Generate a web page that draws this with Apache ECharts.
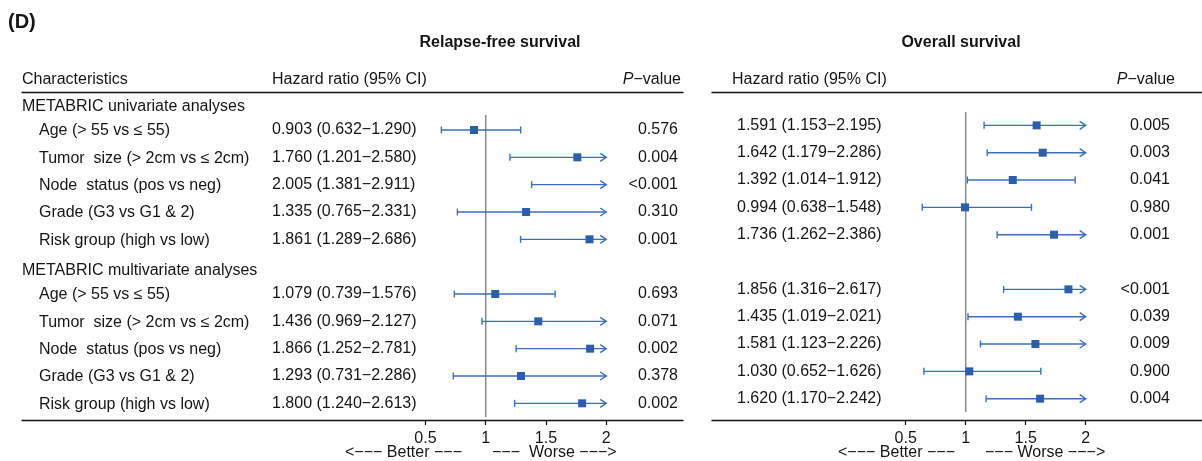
<!DOCTYPE html>
<html>
<head>
<meta charset="utf-8">
<script src="https://cdn.jsdelivr.net/npm/echarts@6/dist/echarts.min.js"></script>
<style>
  html, body { margin: 0; padding: 0; background: #fff; }
  #main { width: 1202px; height: 461px; }
</style>
</head>
<body>
<div id="main"></div>
<script>
// row labels + groups
const characteristics = [
  'Age (> 55 vs ≤ 55)',
  'Tumor  size (> 2cm vs ≤ 2cm)',
  'Node  status (pos vs neg)',
  'Grade (G3 vs G1 & 2)',
  'Risk group (high vs low)'
]
const groups = ['METABRIC univariate analyses', 'METABRIC multivariate analyses']

// Relapse-free survival (5 univariate rows, then 5 multivariate rows)
const rfsHR   = [0.903, 1.760, 2.005, 1.335, 1.861, 1.079, 1.436, 1.866, 1.293, 1.800]
const rfsLow  = [0.632, 1.201, 1.381, 0.765, 1.289, 0.739, 0.969, 1.252, 0.731, 1.240]
const rfsHigh = [1.290, 2.580, 2.911, 2.331, 2.686, 1.576, 2.127, 2.781, 2.286, 2.613]
const rfsP    = ['0.576', '0.004', '<0.001', '0.310', '0.001', '0.693', '0.071', '0.002', '0.378', '0.002']

// Overall survival
const osHR   = [1.591, 1.642, 1.392, 0.994, 1.736, 1.856, 1.435, 1.581, 1.030, 1.620]
const osLow  = [1.153, 1.179, 1.014, 0.638, 1.262, 1.316, 1.019, 1.123, 0.652, 1.170]
const osHigh = [2.195, 2.286, 1.912, 1.548, 2.386, 2.617, 2.021, 2.226, 1.626, 2.242]
const osP    = ['0.005', '0.003', '0.041', '0.980', '0.001', '<0.001', '0.039', '0.009', '0.900', '0.004']

const xTicks = [0.5, 1, 1.5, 2]
const refValue = 1
const clipAt = 2

// layout
const FONT = '"Liberation Sans", Arial, Helvetica, sans-serif'
const TXT = '#151515'
const LINE_C = '#3a6fc0'
const BOX_C = '#2a5fae'

const left = {
  xAxis: 0, yAxis: 0,
  xMin: -2.848, xMax: 2.637, firstRow: 1.39, ref: [0.84, 11.89],
  colGroup: 22, colLabel: 39, colHR: 272, colP: 678
}
const right = {
  xAxis: 2, yAxis: 1,
  xMin: -1.114, xMax: 2.969, firstRow: 1.22, ref: [0.73, 11.71],
  colHR: 737, colP: 1170
}

function rowV(k, first) {
  return first + k + (k >= 5 ? 1 : 0)
}

function fmt(v) { return v.toFixed(3) }

function txt(x, y, text, align, extra) {
  return {
    type: 'text', x: x, y: y, silent: true,
    style: Object.assign({
      text: text, fill: TXT, fontSize: 16, fontFamily: FONT,
      align: align || 'left', verticalAlign: 'middle'
    }, extra || {})
  }
}

// CI whiskers, caps, arrows and boxes
function ciSeries(panel, hr, lo, hi) {
  return {
    type: 'custom', xAxisIndex: panel.xAxis, yAxisIndex: panel.yAxis, silent: true, z: 3,
    data: hr.map((h, k) => [lo[k], hi[k], h, rowV(k, panel.firstRow)]),
    renderItem(params, api) {
      const l = api.value(0), h = api.value(1), m = api.value(2), v = api.value(3)
      const p0 = api.coord([l, v])
      const p1 = api.coord([Math.min(h, clipAt), v])
      const ln = { stroke: LINE_C, lineWidth: 1.4 }
      const kids = [
        { type: 'line', shape: { x1: p0[0], y1: p0[1], x2: p1[0], y2: p1[1] }, style: ln },
        { type: 'line', shape: { x1: p0[0], y1: p0[1] - 3.5, x2: p0[0], y2: p0[1] + 3.5 }, style: ln }
      ]
      if (h > clipAt) {
        kids.push({ type: 'polyline', shape: { points: [[p1[0] - 6, p1[1] - 4], [p1[0], p1[1]], [p1[0] - 6, p1[1] + 4]] }, style: Object.assign({ fill: null }, ln) })
      } else {
        kids.push({ type: 'line', shape: { x1: p1[0], y1: p1[1] - 3.5, x2: p1[0], y2: p1[1] + 3.5 }, style: ln })
      }
      if (m <= clipAt) {
        const pm = api.coord([m, v])
        kids.push({ type: 'rect', shape: { x: pm[0] - 4, y: pm[1] - 4, width: 8, height: 8 }, style: { fill: BOX_C } })
      }
      return { type: 'group', children: kids }
    }
  }
}

function refSeries(panel) {
  return {
    type: 'custom', xAxisIndex: panel.xAxis, yAxisIndex: panel.yAxis, silent: true, z: 1,
    data: [[refValue, panel.ref[0], panel.ref[1]]],
    renderItem(params, api) {
      const a = api.coord([api.value(0), api.value(1)])
      const b = api.coord([api.value(0), api.value(2)])
      return { type: 'line', shape: { x1: a[0], y1: a[1], x2: b[0], y2: b[1] }, style: { stroke: '#8a8a8a', lineWidth: 1.5 } }
    }
  }
}

// text columns, one item per row
function tableSeries(panel, hr, lo, hi, p, withLabels) {
  return {
    type: 'custom', xAxisIndex: panel.xAxis, yAxisIndex: panel.yAxis, silent: true,
    data: hr.map((h, k) => [0, rowV(k, panel.firstRow), k]),
    renderItem(params, api) {
      const k = api.value(2)
      const y = api.coord([0, api.value(1)])[1]
      const kids = [
        txt(panel.colHR, y, fmt(hr[k]) + ' (' + fmt(lo[k]) + '\u2212' + fmt(hi[k]) + ')'),
        txt(panel.colP, y, p[k], 'right')
      ]
      if (withLabels) {
        kids.push(txt(panel.colLabel, y + 1, characteristics[k % 5]))
        if (k % 5 === 0) {
          const gy = api.coord([0, api.value(1) - 0.87])[1]
          kids.push(txt(panel.colGroup, gy, groups[k / 5]))
        }
      }
      return { type: 'group', children: kids }
    }
  }
}

function xAxes(gridIndex, panel) {
  const base = { type: 'value', gridIndex: gridIndex, min: panel.xMin, max: panel.xMax, splitLine: { show: false } }
  return [
    Object.assign({}, base, {
      position: 'bottom',
      axisLine: { onZero: false, lineStyle: { color: '#111', width: 1.4 } },
      axisTick: { customValues: xTicks, length: 5, lineStyle: { color: '#111', width: 1.2 } },
      axisLabel: { customValues: xTicks, color: TXT, fontSize: 16, fontFamily: FONT, margin: 11 }
    }),
    Object.assign({}, base, {
      position: 'top',
      axisLine: { onZero: false, lineStyle: { color: '#111', width: 1.4 } },
      axisTick: { show: false }, axisLabel: { show: false }
    })
  ]
}

const yBase = { type: 'value', inverse: true, min: 0, max: 12, show: false }

const headerY = 80
const titleY = 43
const noteY = 453

const chart = echarts.init(document.getElementById('main'))
chart.setOption({
  animation: false,
  backgroundColor: '#fff',
  grid: [
    { left: 22, right: 519, top: 92, bottom: 41 },
    { left: 712, right: 0, top: 92, bottom: 41 }
  ],
  xAxis: [].concat(xAxes(0, left), xAxes(1, right)),
  yAxis: [
    Object.assign({ gridIndex: 0 }, yBase),
    Object.assign({ gridIndex: 1 }, yBase)
  ],
  graphic: [
    txt(8, 22, '(D)', 'left', { fontSize: 20, fontWeight: 'bold' }),
    txt(500, titleY, 'Relapse-free survival', 'center', { fontWeight: 'bold' }),
    txt(961, titleY, 'Overall survival', 'center', { fontWeight: 'bold' }),
    txt(22, headerY, 'Characteristics'),
    txt(272, headerY, 'Hazard ratio (95% CI)'),
    txt(681, headerY, '{i|P}\u2212value', 'right', { rich: { i: { fontStyle: 'italic', fontSize: 16, fontFamily: FONT, fill: TXT } } }),
    txt(732, headerY, 'Hazard ratio (95% CI)'),
    txt(1175, headerY, '{i|P}\u2212value', 'right', { rich: { i: { fontStyle: 'italic', fontSize: 16, fontFamily: FONT, fill: TXT } } }),
    txt(462, noteY, '<\u2212\u2212\u2212 Better \u2212\u2212\u2212', 'right'),
    txt(492, noteY, '\u2212\u2212\u2212  Worse \u2212\u2212\u2212>'),
    txt(955, noteY, '<\u2212\u2212\u2212 Better \u2212\u2212\u2212', 'right'),
    txt(985, noteY, '\u2212\u2212\u2212 Worse \u2212\u2212\u2212>')
  ],
  series: [
    refSeries(left),
    refSeries(right),
    ciSeries(left, rfsHR, rfsLow, rfsHigh),
    ciSeries(right, osHR, osLow, osHigh),
    tableSeries(left, rfsHR, rfsLow, rfsHigh, rfsP, true),
    tableSeries(right, osHR, osLow, osHigh, osP, false)
  ]
})
</script>
</body>
</html>
